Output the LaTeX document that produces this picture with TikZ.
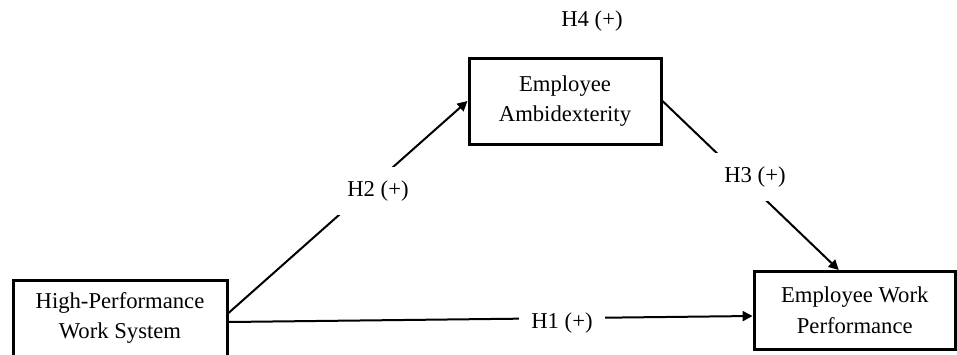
\documentclass[tikz,border=0pt]{standalone}
\usepackage{fontspec}
\setmainfont{Liberation Serif}
\usetikzlibrary{arrows.meta,calc}

\begin{document}
\begin{tikzpicture}[x=0.75pt,y=-0.75pt,
  font=\fontsize{17}{23}\selectfont,
  box/.style={draw,line width=2.25pt,align=center,inner sep=0pt},
  conn/.style={line width=1.5pt,-{Triangle[length=7.5pt,width=7.5pt]}},
  hyp/.style={fill=white,inner xsep=9pt,inner ysep=10pt}]

\useasboundingbox (0,0) rectangle (957,354);

% constructs
\node[box,minimum width=160.5pt,minimum height=57pt] (hpws) at (120,318) {High-Performance\\Work System};
\node[box,minimum width=144pt,minimum height=64.5pt] (ea) at (565,101) {Employee\\Ambidexterity};
\node[box,minimum width=151pt,minimum height=58.5pt] (ewp) at (854.75,310.5) {Employee Work\\Performance};

% paths
\draw[conn] ($(hpws.east)+(0,-5)$) -- (ea.west);
\draw[conn] (ea.east) -- ($(ewp.north)+(-16,0)$);
\draw[conn] ($(hpws.east)+(0,4)$) -- ($(ewp.west)+(0,5.5)$);

% hypotheses
\node[hyp] (h2) at (378,191) {H2 (+)};
\node[hyp] (h3) at (755,177) {H3 (+)};
\node[hyp] (h1) at (562,323) {H1 (+)};
\node (h4) at (592,21) {H4 (+)};
\end{tikzpicture}
\end{document}
